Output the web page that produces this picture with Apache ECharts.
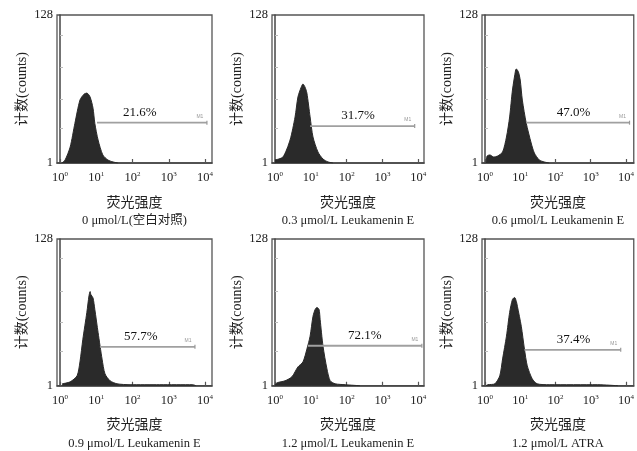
<!DOCTYPE html>
<html><head><meta charset="utf-8">
<script src="https://cdn.jsdelivr.net/npm/echarts@6/dist/echarts.min.js"></script>
<style>html,body{margin:0;padding:0;background:#fff}#c{width:637px;height:451px}</style>
</head><body><div id="c"></div>
<script>
// ---- data (x = log10 fluorescence intensity, y = counts) ----
const panelTitles = ['0 μmol/L(空白对照)', '0.3 μmol/L Leukamenin E', '0.6 μmol/L Leukamenin E',
  '0.9 μmol/L Leukamenin E', '1.2 μmol/L Leukamenin E', '1.2 μmol/L ATRA'];
const xAxisName = '荧光强度';
const yAxisName = '计数(counts)';
const xTickExponents = [0, 1, 2, 3, 4];
const yTickLabels = [1, 128];
const yMinorTicks = [31, 56, 83, 111];

const hist0 = [[0.05,1],[0.14,3.6],[0.28,14.7],[0.41,35],[0.55,55],[0.66,60],[0.74,61],[0.83,57.6],[0.91,48],[0.96,35],[1.05,20.7],[1.18,7.9],[1.32,3.6],[1.46,1.9],[1.6,1]];
const hist1 = [[0.0,3.6],[0.22,6.1],[0.42,20.7],[0.56,40.5],[0.64,57.6],[0.73,66],[0.78,68.8],[0.84,66],[0.89,61],[0.98,40.5],[1.06,23.3],[1.2,10.4],[1.34,4.4],[1.48,1.9],[1.62,1]];
const hist2 = [[0.03,1],[0.06,7],[0.14,7.9],[0.25,6.1],[0.36,7],[0.5,10.4],[0.61,23.3],[0.7,40.5],[0.78,63.6],[0.87,80.8],[0.89,81.7],[0.95,79],[1.0,72.2],[1.06,55],[1.17,35.3],[1.31,18.2],[1.4,9.6],[1.54,3.6],[1.68,1.9],[1.82,1]];
const hist3 = [[0.06,2.7],[0.28,4.4],[0.47,9.6],[0.55,21.6],[0.63,41.3],[0.74,64.5],[0.8,79],[0.83,82.5],[0.85,80],[0.91,77],[0.96,67],[1.05,47],[1.16,24],[1.24,11.3],[1.38,5.3],[1.57,2.7],[1.93,1.9],[2.75,1.9],[3.66,1.9],[3.75,1]];
const hist4 = [[0.0,1.9],[0.06,3.6],[0.28,5.3],[0.47,8.7],[0.64,17.3],[0.78,21.6],[0.89,32.7],[0.98,43.9],[1.06,61],[1.12,67],[1.17,68.8],[1.23,67],[1.26,58.4],[1.34,35.3],[1.45,15.6],[1.54,5.3],[1.68,2.7],[1.96,1.9],[2.37,1]];
const hist5 = [[0.03,1],[0.08,1.9],[0.28,2.7],[0.42,9.6],[0.5,24.2],[0.61,43.9],[0.7,64.5],[0.78,75.7],[0.84,77.4],[0.89,74],[0.92,69.7],[1.03,52.5],[1.12,32.7],[1.2,18.2],[1.34,7],[1.48,2.7],[1.82,1.9],[3.2,1.9],[3.77,1]];
const histograms = [hist0, hist1, hist2, hist3, hist4, hist5];

const gateStart = [1.02, 0.98, 1.17, 1.10, 0.92, 1.12];
const gateEnd   = [4.05, 3.90, 4.10, 3.72, 4.10, 3.85];
const gateCount = [35.6, 32.7, 35.6, 34.7, 35.6, 32.1];
const gatePercent = ['21.6%', '31.7%', '47.0%', '57.7%', '72.1%', '37.4%'];
const percentLabelX = [2.2, 2.32, 2.51, 2.23, 2.51, 2.51];

// ---- layout ----
const colLeft = [57, 272, 482], colWidth = [155, 152, 154];
const rowTop = [15, 239], rowHeight = 148;
const xRanges = [[-0.083, 4.19], [-0.084, 4.16], [-0.084, 4.22]];

const serif = "'Liberation Serif', 'Times New Roman', 'Noto Sans CJK SC', serif";
const grids = [], xAxes = [], yAxes = [], series = [];
for (let i = 0; i < 6; i++) {
  const r = Math.floor(i / 3), c = i % 3;
  grids.push({left: colLeft[c], top: rowTop[r], width: colWidth[c], height: rowHeight,
    show: true, borderColor: '#555', borderWidth: 1.3, backgroundColor: 'transparent'});
  xAxes.push({type: 'value', gridIndex: i, min: xRanges[c][0], max: xRanges[c][1],
    axisLine: {show: true, onZero: false, lineStyle: {color: '#444', width: 1.5}},
    axisTick: {show: true, inside: true, length: 4, customValues: xTickExponents, lineStyle: {color: '#555', width: 1.2}},
    splitLine: {show: false},
    axisLabel: {customValues: xTickExponents, margin: 8, color: '#222', fontFamily: serif,
      formatter: v => '{b|10}{s|' + v + '}',
      rich: {b: {fontSize: 12.5, fontFamily: serif, color: '#222', lineHeight: 14},
             s: {fontSize: 7, fontFamily: serif, color: '#222', verticalAlign: 'top', lineHeight: 14, padding: [0,0,6,0]}}},
    name: '{a|' + xAxisName + '}\n{t|' + panelTitles[i] + '}',
    nameLocation: 'middle', nameGap: 31,
    nameTextStyle: {rich: {a: {fontSize: 14, fontFamily: serif, color: '#222', lineHeight: 18},
                           t: {fontSize: 12.5, fontFamily: serif, color: '#222', lineHeight: 18}}}
  });
  yAxes.push({type: 'value', gridIndex: i, min: 1, max: 128,
    axisLine: {show: true, lineStyle: {color: '#444', width: 1.5}},
    axisTick: {show: true, inside: true, length: 3, customValues: yMinorTicks, lineStyle: {color: '#bbb', width: 1}},
    splitLine: {show: false},
    axisLabel: {customValues: yTickLabels, margin: 4, fontSize: 12.5, color: '#222', fontFamily: serif},
    name: yAxisName, nameLocation: 'middle', nameRotate: 90, nameGap: 28,
    nameTextStyle: {fontSize: 14, fontFamily: serif, color: '#222'}
  });
  series.push({type: 'line', xAxisIndex: i, yAxisIndex: i, data: histograms[i], symbol: 'none',
    smooth: 0.25, lineStyle: {color: '#2a2a2a', width: 1}, areaStyle: {color: '#2a2a2a', opacity: 1, origin: 'start'}, silent: true});
  series.push({type: 'line', xAxisIndex: i, yAxisIndex: i, symbol: 'rect', symbolSize: [1.2, 4],
    showSymbol: true, silent: true, itemStyle: {color: '#999'},
    lineStyle: {color: '#a0a0a0', width: 1.8},
    data: [{value: [gateStart[i], gateCount[i]], symbol: 'none'},
           {value: [gateEnd[i], gateCount[i]], label: {show: true, formatter: 'M1', position: 'top', distance: 2,
             offset: [-7, 0], fontSize: 5, color: '#999'}}]});
  series.push({type: 'scatter', xAxisIndex: i, yAxisIndex: i, symbolSize: 1, silent: true,
    itemStyle: {color: 'rgba(0,0,0,0)'},
    data: [[percentLabelX[i], gateCount[i]]],
    label: {show: true, formatter: gatePercent[i], position: 'top', distance: 3, fontSize: 13,
      fontFamily: serif, color: '#111', opacity: 1}});
}
const chart = echarts.init(document.getElementById('c'), null, {renderer: 'canvas'});
chart.setOption({animation: false, backgroundColor: '#fff', grid: grids, xAxis: xAxes, yAxis: yAxes, series: series});
</script>
</body></html>
